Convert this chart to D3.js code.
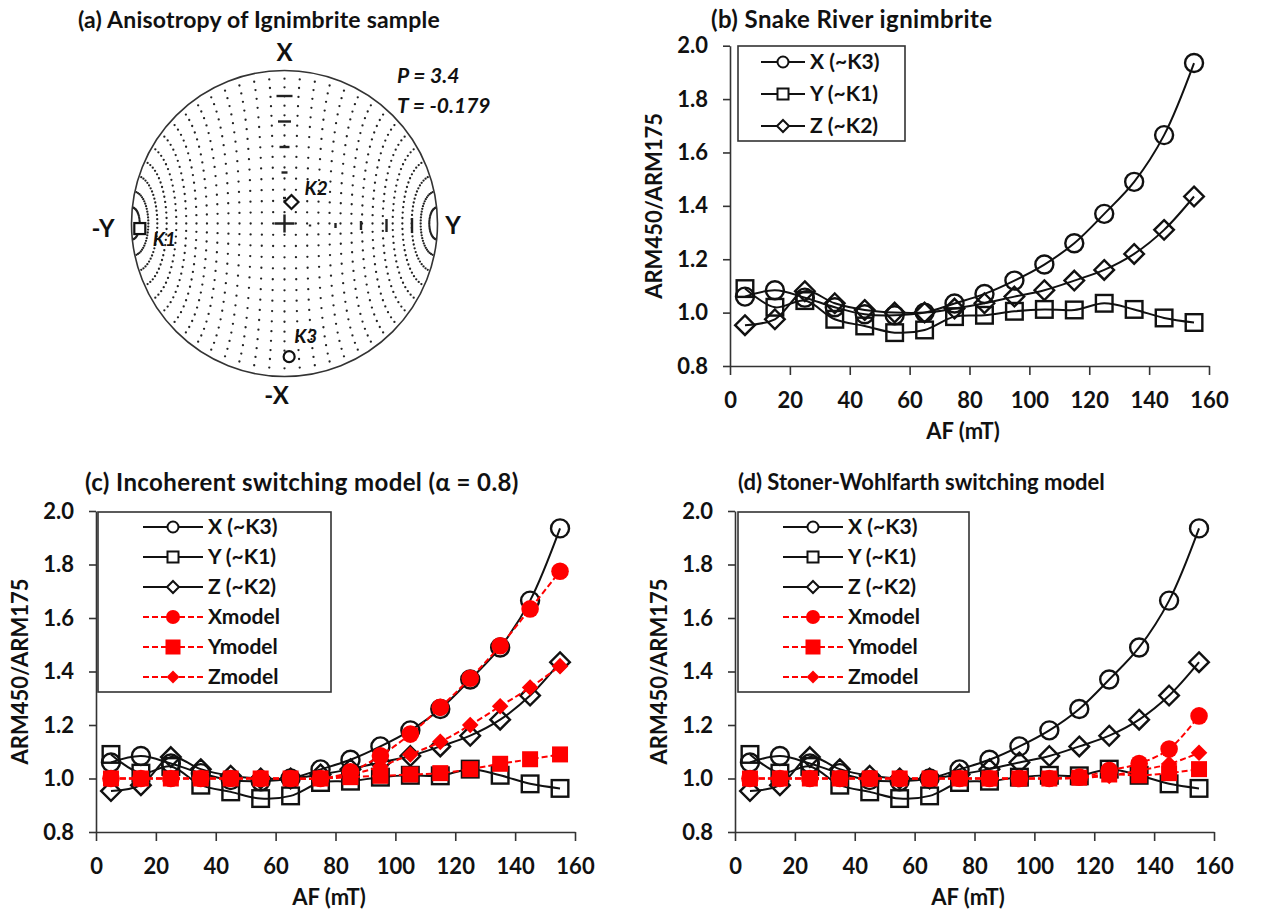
<!DOCTYPE html>
<html><head><meta charset="utf-8">
<script src="https://cdn.jsdelivr.net/npm/d3@7"></script>
<style>
body{margin:0;background:#fff}
text{font-family:Lato,"Open Sans",sans-serif;font-weight:700;fill:#111}
</style>
</head><body>
<svg id="chart" width="1266" height="909"></svg>
<script>
// ---------------- DATA ----------------
const AF = [5,15,25,35,45,55,65,75,85,95,105,115,125,135,145,155];
const xMeas = [1.060,1.084,1.056,1.020,0.994,0.990,1.000,1.034,1.070,1.120,1.180,1.260,1.370,1.490,1.665,1.935];
const yMeas = [1.090,1.020,1.045,0.975,0.950,0.925,0.935,0.985,0.990,1.005,1.012,1.010,1.035,1.012,0.980,0.963];
const zMeas = [0.953,0.975,1.080,1.035,1.010,1.000,1.000,1.015,1.035,1.060,1.084,1.120,1.160,1.220,1.310,1.435];
// (c) incoherent switching model
const xModelC = [1.000,1.000,1.000,1.000,1.000,1.000,1.000,1.000,1.025,1.085,1.166,1.266,1.375,1.496,1.634,1.775];
const yModelC = [1.000,1.000,1.000,1.000,1.000,1.000,1.000,1.000,1.005,1.010,1.015,1.020,1.035,1.055,1.072,1.090];
const zModelC = [1.000,1.000,1.000,1.000,1.000,1.000,1.000,1.000,1.015,1.045,1.090,1.137,1.200,1.270,1.340,1.420];
// (d) Stoner-Wohlfarth switching model
const xModelD = [1.000,1.000,1.000,1.000,1.000,1.000,1.000,1.000,1.000,1.000,1.000,1.005,1.030,1.056,1.110,1.234];
const yModelD = [1.000,1.000,1.000,1.000,1.000,1.000,1.000,1.000,1.000,1.000,1.000,1.003,1.015,1.012,1.020,1.035];
const zModelD = [1.000,1.000,1.000,1.000,1.000,1.000,1.000,1.000,1.000,1.000,1.000,1.003,1.010,1.030,1.054,1.096];

const xTicks = [0,20,40,60,80,100,120,140,160];
const yTicks = [0.8,1.0,1.2,1.4,1.6,1.8,2.0];
const measLabels = ["X (~K3)","Y (~K1)","Z (~K2)"];
const modelLabels = ["Xmodel","Ymodel","Zmodel"];

// (a) principal axes (declination, inclination in degrees)
const principal = [
  {name:"K1", dec:268, inc:6,  shape:"square"},
  {name:"K2", dec:18,  inc:78, shape:"diamond"},
  {name:"K3", dec:178, inc:14, shape:"circle"}
];
const anisoP = "3.4", anisoT = "-0.179";
const netTickFrac = [1/6,2/6,3/6,4/6,5/6];

// ---------------- DRAWING ----------------
const svg = d3.select("#chart");
svg.append("rect").attr("width",1266).attr("height",909).attr("fill","#fff");
const AXC = "#333";

function marker(g, shape, cx, cy, s, fill, stroke, sw){
  let m;
  if(shape==="circle") m = g.append("circle").attr("cx",cx).attr("cy",cy).attr("r",s);
  else if(shape==="square") m = g.append("rect").attr("x",cx-s).attr("y",cy-s).attr("width",2*s).attr("height",2*s);
  else m = g.append("path").attr("d",`M${cx},${cy-s}L${cx+s},${cy}L${cx},${cy+s}L${cx-s},${cy}Z`);
  m.attr("fill",fill).attr("stroke",stroke).attr("stroke-width",sw);
  return m;
}

// ---- Panel (a): stereonet ----
(function(){
  const cx=284.5, cy=223.5, R=153;
  const g = svg.append("g");
  g.append("text").attr("x",78).attr("y",28).attr("font-size",23).attr("letter-spacing",0.2).text("(a) Anisotropy of Ignimbrite sample");
  function proj(n,e,dn){
    const th = Math.acos(Math.max(-1,Math.min(1,dn)));
    const r = Math.SQRT2*Math.sin(th/2)*R;
    const h = Math.hypot(n,e)||1;
    return [cx + r*e/h, cy - r*n/h];
  }
  function projDI(dec,inc){
    const d=dec*Math.PI/180, i=inc*Math.PI/180;
    return proj(Math.cos(i)*Math.cos(d), Math.cos(i)*Math.sin(d), Math.sin(i));
  }
  // net grid dots: nodes of a net whose pole is the Y (E-W) axis
  const step = 6;
  const dots = [];
  for(let a=step; a<180; a+=step){
    for(let b=step; b<180; b+=step){
      const ar=a*Math.PI/180, br=b*Math.PI/180;
      const e=Math.cos(ar), n=Math.sin(ar)*Math.cos(br), dn=Math.sin(ar)*Math.sin(br);
      dots.push(proj(n,e,dn));
    }
  }
  g.selectAll("circle.dot").data(dots).enter().append("circle").attr("class","dot")
    .attr("cx",d=>d[0]).attr("cy",d=>d[1]).attr("r",1.15).attr("fill","#222");
  g.append("circle").attr("cx",cx).attr("cy",cy).attr("r",R).attr("fill","none").attr("stroke",AXC).attr("stroke-width",1.6);
  g.append("path").attr("d",`M${cx-10},${cy}H${cx+10}M${cx},${cy-9}V${cy+9}`).attr("stroke","#222").attr("stroke-width",2.4);
  netTickFrac.forEach((f,i)=>{
    const hl=[3,6,10,13,16][i], vl=[2,5,9,13,15][i];
    g.append("line").attr("x1",cx-hl/2).attr("x2",cx+hl/2).attr("y1",cy-f*R).attr("y2",cy-f*R).attr("stroke","#222").attr("stroke-width",2.4);
    g.append("line").attr("x1",cx+f*R).attr("x2",cx+f*R).attr("y1",cy+2-vl/2).attr("y2",cy+2+vl/2).attr("stroke","#222").attr("stroke-width",2.4);
  });
  const lab = {K1:[13,17],K2:[13,-7],K3:[5,-14]};
  principal.forEach(p=>{
    const [px,py]=projDI(p.dec,p.inc);
    const s = p.shape==="diamond"?7:5.5;
    marker(g,p.shape,px,py,s,"#fff","#111",2.2);
    g.append("text").attr("x",px+lab[p.name][0]).attr("y",py+lab[p.name][1]).attr("font-size",19).attr("font-style","italic").text(p.name);
  });
  g.append("text").attr("x",cx).attr("y",61).attr("text-anchor","middle").attr("font-size",24).text("X");
  g.append("text").attr("x",cx-8).attr("y",404).attr("text-anchor","middle").attr("font-size",24).text("-X");
  g.append("text").attr("x",103).attr("y",237).attr("text-anchor","middle").attr("font-size",24).text("-Y");
  g.append("text").attr("x",453).attr("y",234).attr("text-anchor","middle").attr("font-size",24).text("Y");
  g.append("text").attr("x",397).attr("y",83).attr("font-size",21).attr("font-style","italic").text("P = "+anisoP);
  g.append("text").attr("x",397).attr("y",113).attr("font-size",21).attr("font-style","italic").text("T = "+anisoT);
})();

// ---- XY panels ----
function panel(o){
  const g = svg.append("g");
  const x = d3.scaleLinear().domain([0,160]).range([o.x0,o.x0+479]);
  const y = d3.scaleLinear().domain([0.8,2.0]).range([o.yb,o.yt]);
  g.append("text").attr("x",o.tx).attr("y",o.ty).attr("font-size",o.tfs).attr("letter-spacing",o.tls).text(o.title);
  const ax = g.append("g").attr("transform",`translate(0,${o.yb})`)
    .call(d3.axisBottom(x).tickValues(xTicks).tickSize(9).tickSizeOuter(0).tickFormat(d3.format("d")));
  ax.selectAll("text").attr("y",42).attr("dy",0).attr("font-size",22).style("font-family","Lato").style("font-weight",700).attr("fill","#111");
  const ay = g.append("g").attr("transform",`translate(${o.x0},0)`)
    .call(d3.axisLeft(y).tickValues(yTicks).tickSize(7).tickSizeOuter(0).tickPadding(15).tickFormat(d3.format(".1f")));
  ay.selectAll("text").attr("font-size",22).style("font-family","Lato").style("font-weight",700).attr("fill","#111");
  [ax,ay].forEach(a=>{a.selectAll("path,line").attr("stroke",AXC).attr("stroke-width",1.6); a.attr("font-size",22);});
  g.append("text").attr("x",o.x0+233).attr("y",o.yb+73).attr("text-anchor","middle").attr("font-size",22).text("AF (mT)");
  g.append("text").attr("transform",`translate(${o.x0-68},${(o.yt+o.yb)/2}) rotate(-90)`).attr("text-anchor","middle").attr("font-size",22).text("ARM450/ARM175");

  const line = d3.line().x(d=>x(d[0])).y(d=>y(d[1])).curve(d3.curveCatmullRom.alpha(0.5));
  const shapes=["circle","square","diamond"];
  const meas=[xMeas,yMeas,zMeas];
  meas.forEach((vals,i)=>{
    const pts = AF.map((a,k)=>[a,vals[k]]);
    g.append("path").attr("d",line(pts)).attr("fill","none").attr("stroke","#111").attr("stroke-width",2);
    pts.forEach(p=>marker(g,shapes[i],x(p[0]),y(p[1]),i===0?9:(i===1?8.3:9.8),"none","#111",2.4));
  });
  if(o.models){
    o.models.forEach((vals,i)=>{
      const pts = AF.map((a,k)=>[a,vals[k]]);
      g.append("path").attr("d",line(pts)).attr("fill","none").attr("stroke","#f00").attr("stroke-width",2).attr("stroke-dasharray","6,3");
      pts.forEach(p=>marker(g,shapes[i],x(p[0]),y(p[1]),i===0?8.8:(i===1?8:8.3),"#f00","none",0));
    });
  }
  const L = o.leg;
  const lg = g.append("g");
  lg.append("rect").attr("x",L.x).attr("y",L.y).attr("width",L.w).attr("height",L.h).attr("fill","#fff").attr("stroke",AXC).attr("stroke-width",1.6);
  const labels = measLabels.concat(o.models?modelLabels:[]);
  labels.forEach((t,i)=>{
    const yy = L.y+L.first+i*L.dy;
    const red = i>=3;
    lg.append("line").attr("x1",L.lx1).attr("x2",L.lx2).attr("y1",yy).attr("y2",yy)
      .attr("stroke",red?"#f00":"#111").attr("stroke-width",2).attr("stroke-dasharray",red?"6,3":null);
    const mx=(L.lx1+L.lx2)/2, sh=shapes[i%3];
    if(red) marker(lg,sh,mx,yy,sh==="circle"?7:(sh==="square"?7.5:6.5),"#f00","none",0);
    else marker(lg,sh,mx,yy,sh==="circle"?5.5:(sh==="square"?5.5:6),"#fff","#111",2);
    lg.append("text").attr("x",L.lx2+5).attr("y",yy+7).attr("font-size",21).text(t);
  });
}

panel({x0:730, yt:45.7, yb:366, tx:711, ty:28, tfs:24, tls:0.4, title:"(b) Snake River ignimbrite",
  leg:{x:738,y:46,w:167,h:95,first:16,dy:32,lx1:761,lx2:805}});
panel({x0:96, yt:511, yb:832, tx:85, ty:491, tfs:24, tls:0.4, title:"(c) Incoherent switching model (α = 0.8)",
  models:[xModelC,yModelC,zModelC],
  leg:{x:98,y:512,w:233,h:180,first:15,dy:30,lx1:143,lx2:203}});
panel({x0:735, yt:511, yb:832, tx:738, ty:490, tfs:22, tls:0, title:"(d) Stoner-Wohlfarth switching model",
  models:[xModelD,yModelD,zModelD],
  leg:{x:738,y:512,w:231,h:180,first:15,dy:30,lx1:783,lx2:843}});
</script>
</body></html>
